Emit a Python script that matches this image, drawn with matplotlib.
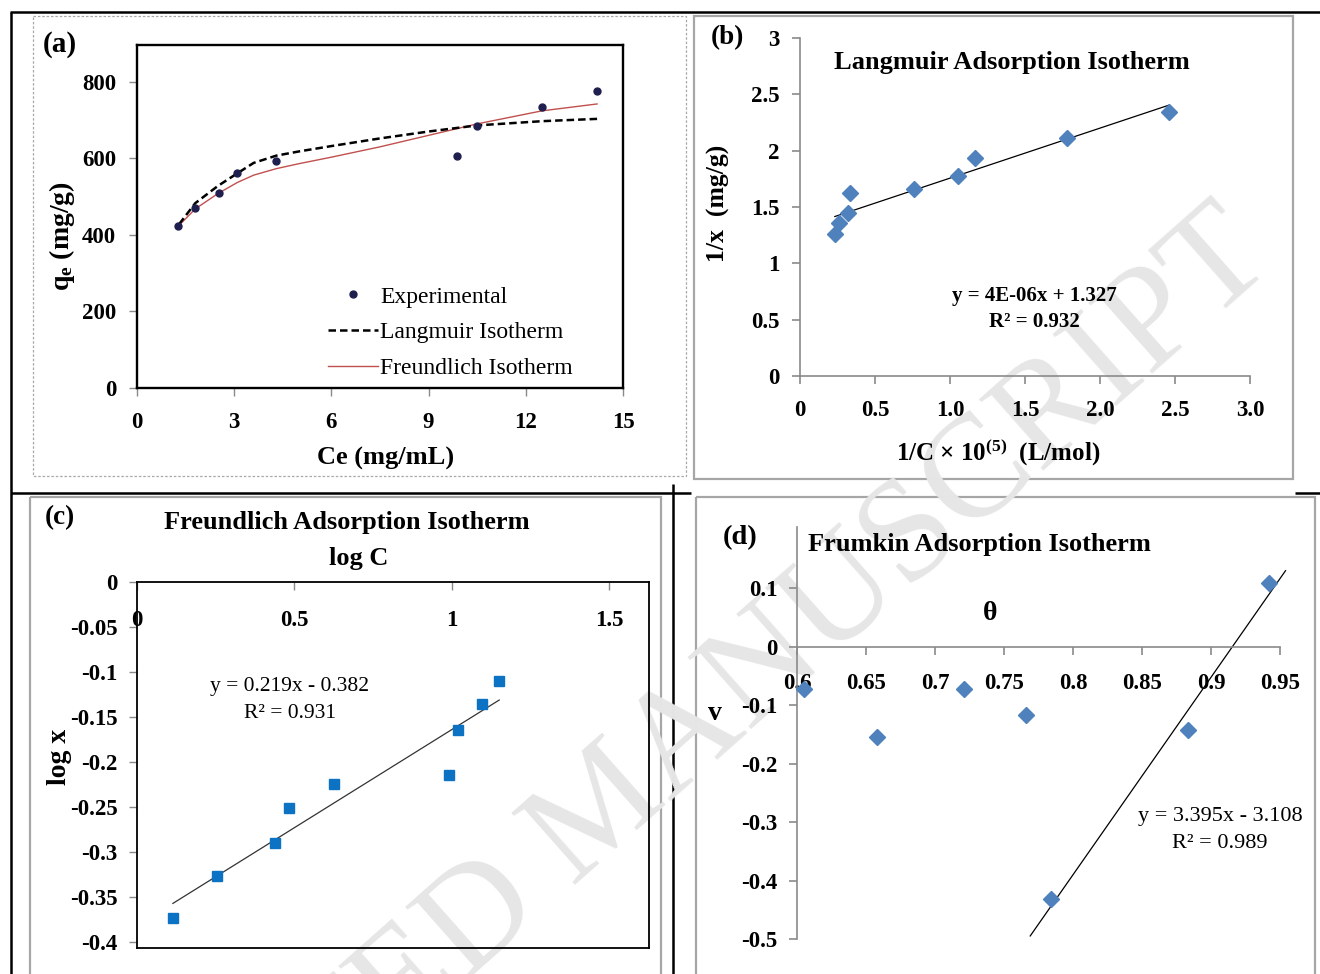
import numpy as np
import matplotlib
matplotlib.use("Agg")
import matplotlib.pyplot as plt
from matplotlib.lines import Line2D
from matplotlib.patches import Rectangle

plt.rcParams['font.family'] = ['Liberation Serif', 'DejaVu Serif']
plt.rcParams['mathtext.fontset'] = 'custom'
plt.rcParams['mathtext.rm'] = 'Liberation Serif:bold'
plt.rcParams['mathtext.it'] = 'Liberation Serif:bold'
plt.rcParams['mathtext.bf'] = 'Liberation Serif:bold'

# ---------------- data ----------------
# (a) experimental isotherm
ce_exp = [1.28, 1.79, 2.54, 3.10, 4.28, 9.89, 10.48, 12.51, 14.20]
qe_exp = [422, 470, 509, 562, 592, 607, 684, 734, 775]
curve_x = [1.3, 1.8, 2.5, 3.1, 3.6, 4.3, 5.0, 6.0, 7.5, 9.0, 10.5, 12.5, 14.2]
langmuir_q = [428, 483, 528, 561, 588, 607, 618, 632, 652, 670, 686, 697, 703]
freundlich_q = [425, 468, 508, 537, 556, 573, 586, 603, 630, 660, 690, 724, 742]

# (b) Langmuir linear plot
inv_c = [0.232, 0.259, 0.318, 0.331, 0.758, 1.054, 1.164, 1.780, 2.461]
inv_x = [1.264, 1.358, 1.447, 1.624, 1.662, 1.771, 1.934, 2.114, 2.347]

# (c) Freundlich linear plot
log_c = [0.114, 0.255, 0.440, 0.484, 0.627, 0.993, 1.020, 1.097, 1.151]
log_x = [-0.373, -0.327, -0.290, -0.251, -0.225, -0.215, -0.164, -0.136, -0.110]

# (d) Frumkin plot
theta = [0.605, 0.658, 0.721, 0.766, 0.784, 0.883, 0.942]
v = [-0.0725, -0.155, -0.0725, -0.117, -0.432, -0.142, 0.110]
frumkin_fit_idx = [4, 5, 6]
frumkin_line_range = [0.769, 0.954]

W, H = 1320, 974
fig = plt.figure(figsize=(W / 100, H / 100), dpi=100)


def box(l, t, r, b):
    return [l / W, 1 - b / H, (r - l) / W, (b - t) / H]


# background layer: table lines, panel borders, watermark
bg = fig.add_axes([0, 0, 1, 1], zorder=-10)
bg.set_xlim(0, W)
bg.set_ylim(H, 0)
bg.axis('off')
bg.text(605, 811, 'ACCEPTED MANUSCRIPT', rotation=41.5, rotation_mode='anchor',
        ha='center', va='center', fontsize=105, color='#e6e6e6',
        family='Liberation Serif')
bg.add_patch(Rectangle((33, 16), 653, 460, fill=False, ec='#a8a8a8', lw=0.9, ls=(0, (2, 1.5))))
bg.add_patch(Rectangle((694, 16), 599, 463, fill=False, ec='#a6a6a6', lw=1.6))
bg.add_patch(Rectangle((30, 497), 631, 500, fill=False, ec='#a6a6a6', lw=1.6))
bg.add_patch(Rectangle((696, 497), 619, 500, fill=False, ec='#a6a6a6', lw=1.6))
for xs, ys in [((10, 1320), (12, 12)), ((11, 11), (12, 974)), ((11, 691), (493, 493)),
               ((673, 673), (484, 974)), ((1295, 1320), (493, 493))]:
    bg.plot(xs, ys, color='black', lw=1.8, solid_capstyle='butt')


def ft(x, y, s, **kw):
    fig.text(x / W, 1 - y / H, s, **kw)


TICKGRAY = '#8a8a8a'
TICK = 16.5
LAB = 19
TITLE = 19


def style_ticks(ax, size=TICK):
    for lab in ax.get_xticklabels() + ax.get_yticklabels():
        lab.set_fontweight('bold')
        lab.set_fontsize(size)


# ---------------- (a) ----------------
axA = fig.add_axes(box(137, 45, 623, 388), facecolor='none')
axA.set_xlim(0, 15)
axA.set_ylim(0, 896)
axA.set_xticks(range(0, 16, 3))
axA.set_yticks(range(0, 801, 200))
for s in axA.spines.values():
    s.set_color('black')
    s.set_linewidth(1.7)
axA.tick_params(direction='out', color=TICKGRAY, length=6, width=1)
axA.tick_params(axis='y', pad=9)
axA.tick_params(axis='x', pad=11)
style_ticks(axA)
axA.plot(curve_x, freundlich_q, color='#c0504d', lw=1.0, zorder=2)
axA.plot(curve_x, langmuir_q, color='black', lw=1.8, ls=(0, (3, 1.6)), zorder=3)
axA.plot(ce_exp, qe_exp, ls='none', marker='o', ms=5, color='#1f1f4f', zorder=4)
handles = [Line2D([], [], ls='none', marker='o', ms=5, color='#1f1f4f'),
           Line2D([], [], color='black', lw=1.8, ls=(0, (3, 1.6))),
           Line2D([], [], color='#c0504d', lw=1.0)]
axA.legend(handles, ['Experimental', 'Langmuir Isotherm', 'Freundlich Isotherm'],
           loc='lower left', bbox_to_anchor=(0.393, 0.026), frameon=False,
           fontsize=17, handlelength=2.1, handletextpad=0.12, labelspacing=0.6,
           borderpad=0, borderaxespad=0)
ft(60, 45, '(a)', fontsize=21, fontweight='bold', ha='center', va='center')
ft(62, 236, r'q$_{e}$ (mg/g)', fontsize=20, fontweight='bold', rotation=90,
   ha='center', va='center')
ft(386, 458, 'Ce (mg/mL)', fontsize=LAB, fontweight='bold', ha='center', va='center')

# ---------------- (b) ----------------
axB = fig.add_axes(box(800, 38, 1250, 376), facecolor='none')
axB.set_xlim(0, 3)
axB.set_ylim(0, 3)
axB.set_xticks([0, 0.5, 1, 1.5, 2, 2.5, 3], ['0', '0.5', '1.0', '1.5', '2.0', '2.5', '3.0'])
axB.set_yticks([0, 0.5, 1, 1.5, 2, 2.5, 3], ['0', '0.5', '1', '1.5', '2', '2.5', '3'])
for k in ['top', 'right']:
    axB.spines[k].set_visible(False)
for k in ['left', 'bottom']:
    axB.spines[k].set_color(TICKGRAY)
    axB.spines[k].set_linewidth(1.2)
axB.tick_params(direction='out', color=TICKGRAY, length=6, width=1.2)
axB.tick_params(axis='y', pad=9)
axB.tick_params(axis='x', pad=11)
style_ticks(axB)
slope_b, icpt_b = np.polyfit(inv_c, inv_x, 1)
xb = np.array([min(inv_c), max(inv_c)])
axB.plot(xb, slope_b * xb + icpt_b, color='black', lw=0.9)
axB.plot(inv_c, inv_x, ls='none', marker='D', ms=8, color='#4f81bd')
ft(727, 38, '(b)', fontsize=19.5, fontweight='bold', ha='center', va='center')
ft(1012, 62, 'Langmuir Adsorption Isotherm', fontsize=TITLE, fontweight='bold',
   ha='center', va='center')
ft(1034, 296, 'y = 4E-06x + 1.327', fontsize=15, fontweight='bold', ha='center', va='center')
ft(1034, 322, 'R² = 0.932', fontsize=15, fontweight='bold', ha='center', va='center')
ft(998, 452, r'1/C $\times$ 10$^{(5)}$  (L/mol)', fontsize=18, fontweight='bold',
   ha='center', va='center')
ft(718, 203, '1/x  (mg/g)', fontsize=18.5, fontweight='bold', rotation=90,
   ha='center', va='center')

# ---------------- (c) ----------------
axC = fig.add_axes(box(137, 582, 649, 948), facecolor='none')
axC.set_xlim(0, 1.627)
axC.set_ylim(-0.4067, 0)
axC.set_xticks([0, 0.5, 1, 1.5], ['0', '0.5', '1', '1.5'])
axC.set_yticks([0, -0.05, -0.1, -0.15, -0.2, -0.25, -0.3, -0.35, -0.4],
               ['0', '-0.05', '-0.1', '-0.15', '-0.2', '-0.25', '-0.3', '-0.35', '-0.4'])
for s in axC.spines.values():
    s.set_color('black')
    s.set_linewidth(1.3)
axC.tick_params(axis='y', direction='out', color=TICKGRAY, length=6, width=1, pad=8)
axC.tick_params(axis='x', top=True, labeltop=True, bottom=False, labelbottom=False,
                direction='in', color=TICKGRAY, length=6, width=1, pad=-35)
style_ticks(axC)
slope_c, icpt_c = np.polyfit(log_c, log_x, 1)
xc = np.array([min(log_c), max(log_c)])
axC.plot(xc, slope_c * xc + icpt_c, color='#333333', lw=0.9)
axC.plot(log_c, log_x, ls='none', marker='s', ms=7.5, color='#0b72c4')
ft(60, 518, '(c)', fontsize=19.5, fontweight='bold', ha='center', va='center')
ft(347, 523, 'Freundlich Adsorption Isotherm', fontsize=TITLE, fontweight='bold',
   ha='center', va='center')
ft(359, 558, 'log C', fontsize=TITLE, fontweight='bold', ha='center', va='center')
ft(290, 687, 'y = 0.219x - 0.382', fontsize=15.5, ha='center', va='center')
ft(290, 714, 'R² = 0.931', fontsize=15.5, ha='center', va='center')
ft(60, 757, 'log x', fontsize=20, fontweight='bold', rotation=90, ha='center', va='center')

# ---------------- (d) ----------------
axD = fig.add_axes(box(797, 527, 1280, 939), facecolor='none')
axD.set_xlim(0.6, 0.95)
axD.set_ylim(-0.5, 0.205)
axD.set_xticks([0.6, 0.65, 0.7, 0.75, 0.8, 0.85, 0.9, 0.95],
               ['0.6', '0.65', '0.7', '0.75', '0.8', '0.85', '0.9', '0.95'])
axD.set_yticks([0.1, 0, -0.1, -0.2, -0.3, -0.4, -0.5],
               ['0.1', '0', '-0.1', '-0.2', '-0.3', '-0.4', '-0.5'])
for k in ['top', 'right']:
    axD.spines[k].set_visible(False)
axD.spines['bottom'].set_position(('data', 0))
axD.spines['left'].set_bounds(-0.5, 0.205)
for k in ['left', 'bottom']:
    axD.spines[k].set_color(TICKGRAY)
    axD.spines[k].set_linewidth(1.2)
axD.tick_params(direction='out', color=TICKGRAY, length=6, width=1.2)
axD.tick_params(axis='y', pad=8)
axD.tick_params(axis='x', pad=13)
style_ticks(axD)
fx = [theta[i] for i in frumkin_fit_idx]
fy = [v[i] for i in frumkin_fit_idx]
slope_d, icpt_d = np.polyfit(fx, fy, 1)
xd = np.array(frumkin_line_range)
axD.plot(xd, slope_d * xd + icpt_d, color='black', lw=0.9, clip_on=False)
axD.plot(theta, v, ls='none', marker='D', ms=8, color='#4f81bd', clip_on=False, zorder=5)
ft(740, 538, '(d)', fontsize=20.5, fontweight='bold', ha='center', va='center')
ft(808, 545, 'Frumkin Adsorption Isotherm', fontsize=TITLE, fontweight='bold',
   ha='left', va='center')
ft(990, 613, 'θ', fontsize=20, fontweight='bold', ha='center', va='center')
ft(715, 713, 'v', fontsize=20, fontweight='bold', ha='center', va='center')
ft(1220, 817, 'y = 3.395x - 3.108', fontsize=16, ha='center', va='center')
ft(1220, 844, 'R² = 0.989', fontsize=16, ha='center', va='center')

fig.savefig('out.png', dpi=100)
